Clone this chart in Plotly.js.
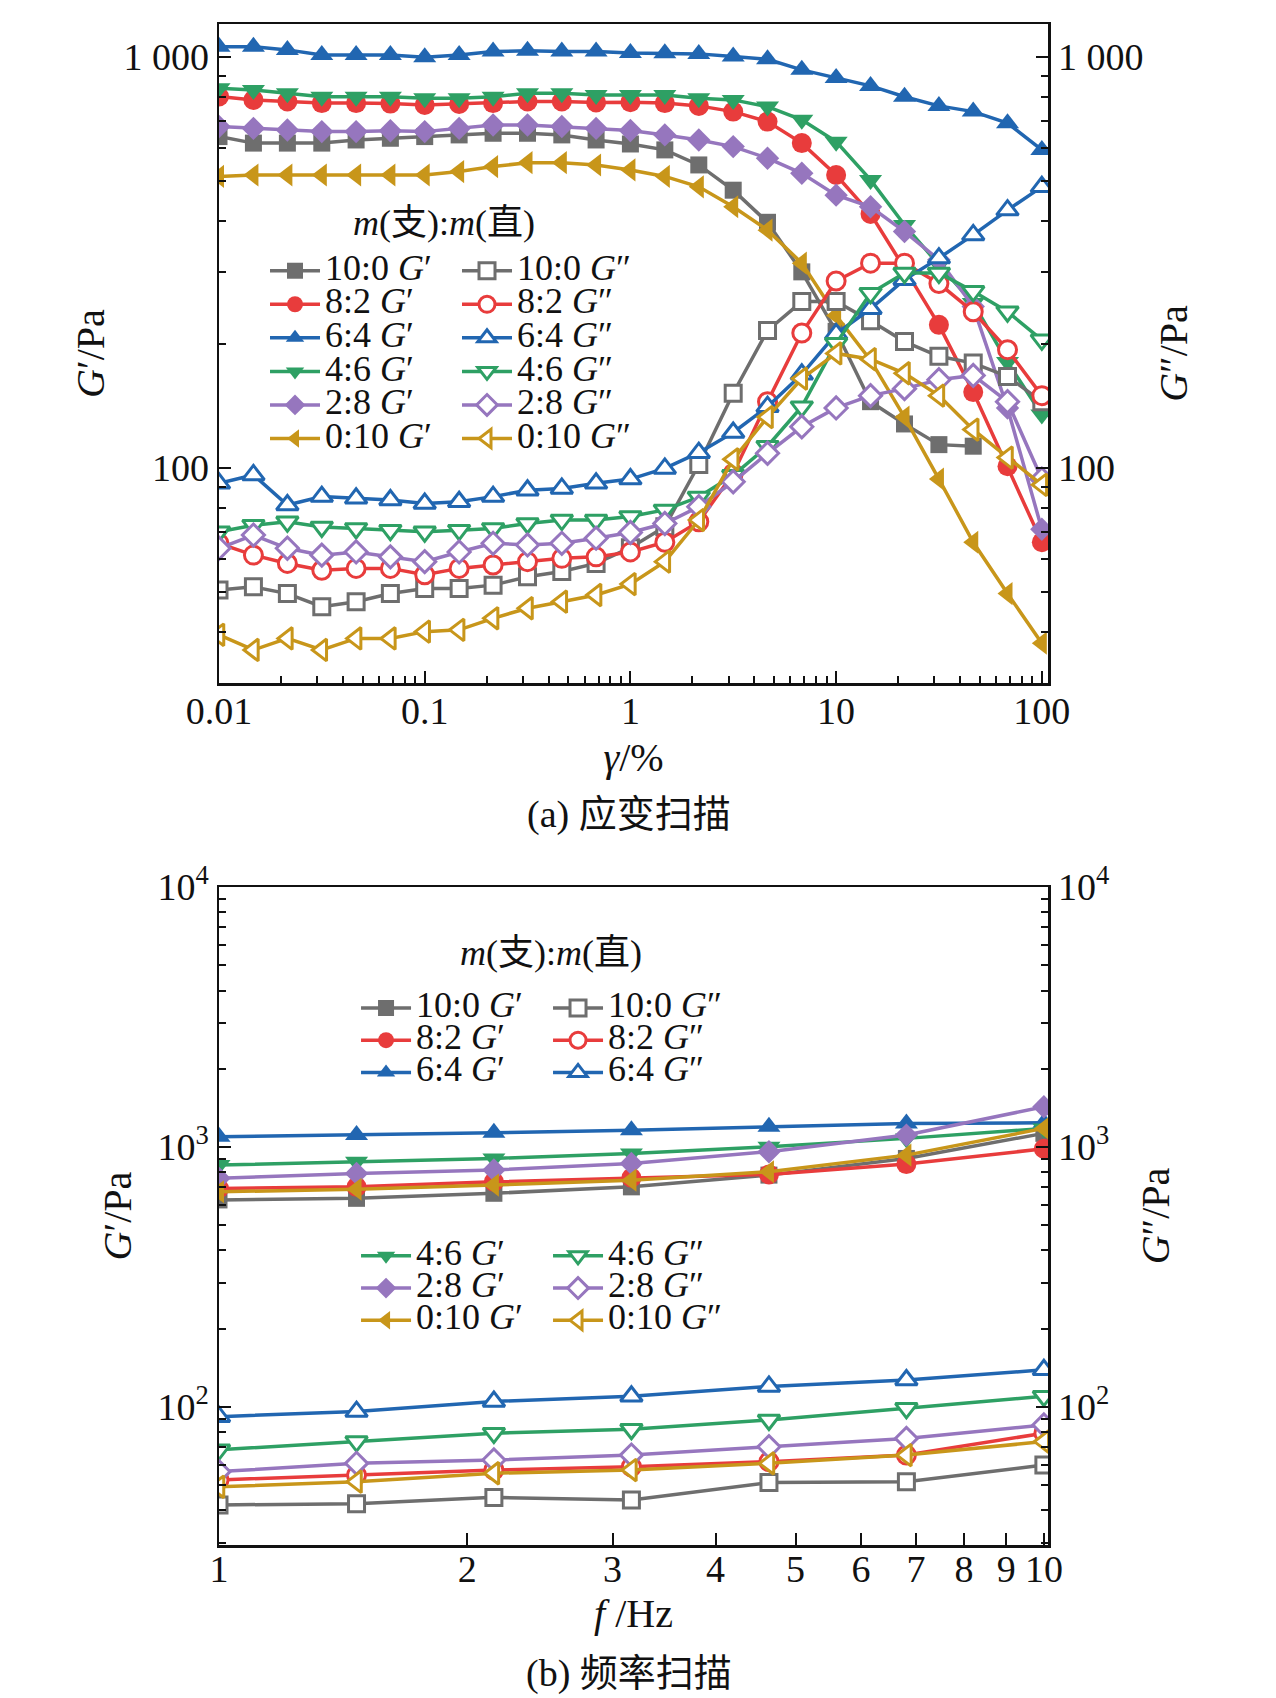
<!DOCTYPE html>
<html>
<head>
<meta charset="utf-8">
<script src="https://cdn.plot.ly/plotly-3.0.1.min.js"></script>
<style>
  body { margin: 0; background: #fff; }
  #chart { width: 1276px; height: 1698px; }
</style>
</head>
<body>
<div id="chart"></div>
<script>
// sample ratios m(支):m(直)
var samples = ['10:0', '8:2', '6:4', '4:6', '2:8', '0:10'];

// (a) strain sweep, gamma in %
var strain = [0.01, 0.0147, 0.0215, 0.0316, 0.0464, 0.0681, 0.1, 0.147, 0.215, 0.316, 0.464, 0.681,
              1, 1.47, 2.15, 3.16, 4.64, 6.81, 10, 14.7, 21.5, 31.6, 46.4, 68.1, 100];

// storage modulus G' (Pa)
var aGp10_0 = [640, 617, 617, 617, 628, 634, 640, 646, 652, 652, 646, 628, 614, 594, 546, 474, 396, 300, 215, 145, 128, 114, 113, null, null];
var aGp8_2  = [801, 786, 779, 772, 772, 770, 764, 768, 772, 779, 779, 775, 776, 772, 760, 736, 696, 617, 516, 415, 306, 223, 153, 101, 66];
var aGp6_4  = [1059, 1059, 1040, 1011, 1011, 1011, 998, 1011, 1030, 1035, 1030, 1030, 1022, 1021, 1017, 1002, 987, 930, 888, 850, 800, 760, 736, 690, 594];
var aGp4_6  = [839, 831, 816, 800, 800, 800, 793, 793, 800, 816, 816, 808, 808, 808, 793, 786, 757, 703, 622, 502, 390, 312, 252, 181, 135];
var aGp2_8  = [677, 670, 664, 658, 658, 661, 658, 670, 683, 683, 677, 670, 662, 646, 628, 605, 567, 521, 461, 432, 376, 321, 247, 140, 71];
var aGp0_10 = [512, 516, 516, 516, 516, 516, 516, 526, 541, 553, 553, 546, 531, 512, 483, 432, 379, 315, 235, 183, 133, 94, 66, 49.5, 37.5];

// loss modulus G'' (Pa)
var aGpp10_0 = [50.5, 51.4, 49.5, 46.0, 47.3, 49.5, 50.9, 50.9, 51.9, 54.4, 56.0, 58.6, 64, 72, 102, 152, 216, 254, 254, 228, 203, 187, 180, 167, 145];
var aGpp8_2  = [65.6, 61.4, 58.6, 56.4, 57.0, 57.0, 55.0, 57.0, 58.1, 59.2, 60.3, 60.8, 62.5, 66, 74, 97, 145, 213, 285, 315, 315, 281, 240, 194, 150];
var aGpp6_4  = [91.8, 96.2, 81.3, 85.2, 84.4, 83.6, 82.0, 82.8, 85.2, 88.3, 89.2, 91.8, 94, 99.8, 109, 122, 141, 169, 212, 244, 287, 324, 369, 424, 483];
var aGpp4_6  = [70.0, 72.6, 74.0, 71.9, 71.3, 70.6, 70.0, 70.6, 71.3, 73.3, 74.7, 74.7, 76.2, 79.1, 85, 96, 113, 141, 201, 266, 298, 298, 269, 240, 205];
var aGpp2_8  = [63.8, 68.7, 63.8, 61.4, 62.5, 60.8, 59.2, 62.5, 65.6, 65.0, 65.6, 67.5, 69.7, 73.3, 80.5, 92.6, 108.6, 126, 140, 150, 156, 164, 168, 145, 94];
var aGpp0_10 = [39.3, 36.1, 38.5, 36.1, 38.5, 38.5, 40.0, 40.4, 43.1, 45.6, 47.3, 49.1, 52.2, 59.2, 74.7, 105, 133, 165, 190, 184, 170, 150, 124, 106, 91];

// (b) frequency sweep, f in Hz
var freq = [1, 1.468, 2.154, 3.162, 4.642, 6.813, 10];

var bGp10_0 = [626, 635, 664, 703, 780, 904, 1129];
var bGp8_2  = [693, 703, 735, 762, 785, 860, 985];
var bGp6_4  = [1096, 1112, 1135, 1161, 1197, 1233, 1240];
var bGp4_6  = [853, 878, 904, 945, 1003, 1080, 1180];
var bGp2_8  = [758, 792, 816, 865, 960, 1112, 1429];
var bGp0_10 = [673, 688, 714, 746, 804, 931, 1180];

var bGpp10_0 = [42.0, 42.4, 44.9, 43.9, 51.2, 51.6, 59.8];
var bGpp8_2  = [52.4, 54.7, 57.2, 58.9, 61.6, 65.3, 79.3];
var bGpp6_4  = [91.8, 96, 105, 110, 120, 127, 139];
var bGpp4_6  = [68.4, 73.6, 79.3, 82.1, 89.1, 98.8, 110];
var bGpp2_8  = [56.4, 60.7, 62.5, 65.3, 70.3, 75.7, 85.3];
var bGpp0_10 = [49.3, 51.6, 55.6, 57.2, 60.7, 65.3, 73.6];

// tick labels
var strainTicks = [0.01, 0.1, 1, 10, 100];
var strainTickText = ['0.01', '0.1', '1', '10', '100'];
var modTicksA = [100, 1000];
var modTickTextA = ['100', '1 000'];
var freqTicks = [1, 2, 3, 4, 5, 6, 7, 8, 9, 10];
var freqTickText = ['1', '2', '3', '4', '5', '6', '7', '8', '9', '10'];
var modTicksB = [100, 1000, 10000];
var modTickTextB = ['10<sup>2</sup>', '10<sup>3</sup>', '10<sup>4</sup>'];

var aGp = [aGp10_0, aGp8_2, aGp6_4, aGp4_6, aGp2_8, aGp0_10];
var aGpp = [aGpp10_0, aGpp8_2, aGpp6_4, aGpp4_6, aGpp2_8, aGpp0_10];
var bGp = [bGp10_0, bGp8_2, bGp6_4, bGp4_6, bGp2_8, bGp0_10];
var bGpp = [bGpp10_0, bGpp8_2, bGpp6_4, bGpp4_6, bGpp2_8, bGpp0_10];

var colors = ['#6e6e6e', '#e83c3c', '#2166b1', '#2ea064', '#9676be', '#c8961a'];
var symbols = ['square', 'circle', 'triangle-up', 'triangle-down', 'diamond', 'triangle-left'];
var sizeFull = [17, 20, 20, 20, 18, 20];
var sizeOpen = [16, 18, 19, 19, 17, 19];

var FONT = 'Liberation Serif, Times New Roman, Noto Sans CJK SC, serif';

// minor tick positions (decade digits)
function minorTicks(decades) {
  var out = [];
  decades.forEach(function (d) {
    for (var m = 2; m <= 9; m++) out.push(m * d);
  });
  return out;
}

function series(xs, ys, i, loss, xa, ya, leg) {
  var name = '<span style="font-size:36px">' + samples[i] + ' <i>G</i>' + (loss ? '″' : '′') + '</span>';
  return {
    x: xs, y: ys, xaxis: xa, yaxis: ya,
    type: 'scatter', mode: 'lines+markers',
    name: name, legend: leg,
    line: { color: colors[i], width: 3.5 },
    marker: loss
      ? { symbol: symbols[i], size: sizeOpen[i], color: '#ffffff', line: { color: colors[i], width: 3 } }
      : { symbol: symbols[i], size: sizeFull[i], color: colors[i], line: { width: 0 } }
  };
}

var data = [];
// (a) storage on left axis, loss on right axis
for (var i = 0; i < 6; i++) data.push(series(strain, aGp[i], i, false, 'x', 'y', 'legend'));
for (var i = 0; i < 6; i++) data.push(series(strain, aGpp[i], i, true, 'x', 'y2', 'legend2'));
// (b) two legend groups, top and bottom
for (var i = 0; i < 6; i++) data.push(series(freq, bGp[i], i, false, 'x2', 'y3', i < 3 ? 'legend3' : 'legend5'));
for (var i = 0; i < 6; i++) data.push(series(freq, bGpp[i], i, true, 'x2', 'y4', i < 3 ? 'legend4' : 'legend6'));

var tickFont = { family: FONT, size: 38, color: '#111' };
var titleFont = { family: FONT, size: 40, color: '#111' };

function logAxis(extra) {
  var ax = {
    type: 'log', showgrid: false, zeroline: false,
    showline: true, linecolor: '#111', linewidth: 2.5,
    ticks: 'inside', ticklen: 12, tickwidth: 2, tickcolor: '#111',
    tickfont: tickFont, tickmode: 'array'
  };
  for (var k in extra) ax[k] = extra[k];
  return ax;
}

function legendBox(x, y, fs) {
  return {
    x: x, y: y, xanchor: 'left', yanchor: 'top',
    bgcolor: 'rgba(0,0,0,0)', borderwidth: 0,
    font: { family: FONT, size: fs, color: '#111' },
    itemwidth: 50, tracegroupgap: 0
  };
}

var minorStyle = { ticks: 'inside', ticklen: 7, tickwidth: 2, tickcolor: '#111' };
function minor(decades) {
  var m = { tickvals: minorTicks(decades) };
  for (var k in minorStyle) m[k] = minorStyle[k];
  return m;
}

var rangeA = [1.477, 3.080];
var rangeB = [1.469, 4.0005];

function note(x, y, text, size) {
  return { xref: 'paper', yref: 'paper', x: x, y: y, xanchor: 'center', yanchor: 'middle',
           showarrow: false, text: text, font: { family: FONT, size: size, color: '#111' } };
}

var layout = {
  width: 1276, height: 1698,
  margin: { l: 219, r: 228, t: 24, b: 153 },
  paper_bgcolor: '#fff', plot_bgcolor: '#fff',
  font: { family: FONT, color: '#111' },
  showlegend: true,
  xaxis: logAxis({
    domain: [0, 1], anchor: 'y', range: [-2, 2.03], mirror: true,
    tickvals: strainTicks, ticktext: strainTickText, minor: minor([0.01, 0.1, 1, 10]),
    ticklabelstandoff: -7,
    title: { text: '<i>γ</i>/%', font: titleFont, standoff: 12 }
  }),
  yaxis: logAxis({
    domain: [0.5667, 1], anchor: 'x', range: rangeA,
    tickvals: modTicksA, ticktext: modTickTextA, minor: minor([10, 100]),
    title: { text: '<i>G</i>′/Pa', font: titleFont, standoff: 7 }
  }),
  yaxis2: logAxis({
    overlaying: 'y', side: 'right', anchor: 'x', range: rangeA,
    tickvals: modTicksA, ticktext: modTickTextA, minor: minor([10, 100]),
    title: { text: '<i>G</i>″/Pa', font: titleFont, standoff: 17 }
  }),
  xaxis2: logAxis({
    domain: [0, 1], anchor: 'y3', range: [0, 1.005], mirror: true,
    tickvals: freqTicks, ticktext: freqTickText,
    ticklabelstandoff: -11,
    title: { text: '<i>f</i> /Hz', font: titleFont, standoff: 10 }
  }),
  yaxis3: logAxis({
    domain: [0, 0.4326], anchor: 'x2', range: rangeB,
    tickvals: modTicksB, ticktext: modTickTextB, minor: minor([10, 100, 1000]),
    title: { text: '<i>G</i>′/Pa', font: titleFont, standoff: 14 }
  }),
  yaxis4: logAxis({
    overlaying: 'y3', side: 'right', anchor: 'x2', range: rangeB,
    tickvals: modTicksB, ticktext: modTickTextB, minor: minor([10, 100, 1000]),
    title: { text: '<i>G</i>″/Pa', font: titleFont, standoff: 33 }
  }),
  legend: legendBox(0.0555, 0.8521, 23.5),
  legend2: legendBox(0.2871, 0.8521, 23.5),
  legend3: legendBox(0.1653, 0.3670, 22.5),
  legend4: legendBox(0.3969, 0.3670, 22.5),
  legend5: legendBox(0.1653, 0.2040, 22.5),
  legend6: legendBox(0.3969, 0.2040, 22.5),
  annotations: [
    note(0.2714, 0.8692, '<i>m</i>(支):<i>m</i>(直)', 36),
    note(0.3999, 0.3894, '<i>m</i>(支):<i>m</i>(直)', 36),
    note(0.4946, 0.4806, '(a) 应变扫描', 38),
    note(0.4946, -0.0842, '(b) 频率扫描', 38)
  ]
};

Plotly.newPlot('chart', data, layout, { displayModeBar: false, staticPlot: true });
</script>
</body>
</html>
